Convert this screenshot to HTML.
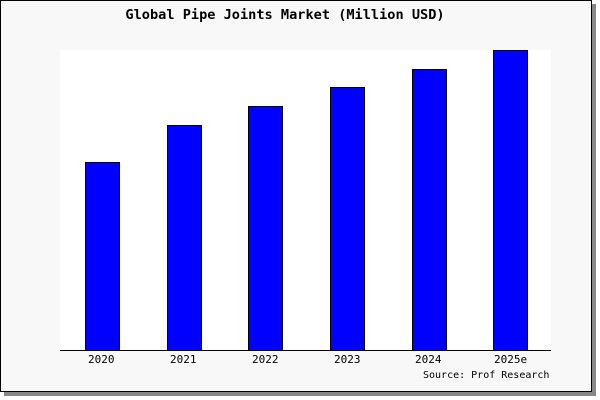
<!DOCTYPE html>
<html><head><style>
body{margin:0;width:600px;height:400px;background:#fff;position:relative;overflow:hidden;font-family:"DejaVu Sans Mono","Liberation Mono",monospace}
.sh{position:absolute;left:4px;top:4px;width:592px;height:392px;background:#888}
.box{position:absolute;left:0;top:0;width:590px;height:390px;background:#f8f8f8;border:1px solid #000}
.plot{position:absolute;left:60px;top:50px;width:491px;height:300px;background:#fff;border-bottom:1px solid #000}
.bar{position:absolute;background:#00f;border:1px solid #000;box-sizing:border-box;width:35px}
.t{position:absolute;font-size:11px;color:#000}
</style></head><body>
<div class="sh"></div>
<div class="box"></div>
<div class="t" style="left:0;width:570px;text-align:center;top:7px;font-size:13.6px;font-weight:bold">Global Pipe Joints Market (Million USD)</div>
<div class="plot"></div>
<div class="bar" style="left:85px;top:162px;height:189px"></div>
<div class="bar" style="left:167px;top:125px;height:226px"></div>
<div class="bar" style="left:248px;top:106px;height:245px"></div>
<div class="bar" style="left:330px;top:87px;height:264px"></div>
<div class="bar" style="left:412px;top:69px;height:282px"></div>
<div class="bar" style="left:493px;top:50px;height:301px"></div>
<div class="t" style="left:88px;top:353px">2020</div>
<div class="t" style="left:170px;top:353px">2021</div>
<div class="t" style="left:252px;top:353px">2022</div>
<div class="t" style="left:334px;top:353px">2023</div>
<div class="t" style="left:415px;top:353px">2024</div>
<div class="t" style="left:494px;top:353px">2025e</div>
<div class="t" style="left:423px;top:370px;font-size:10px">Source: Prof Research</div>
</body></html>
